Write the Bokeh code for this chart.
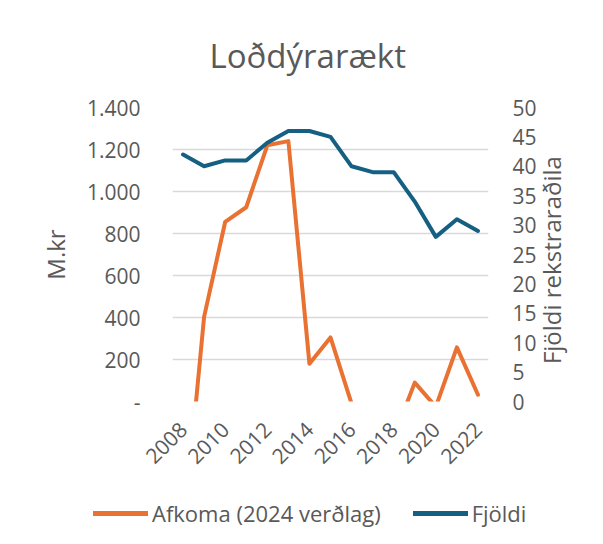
import math
from bokeh.plotting import figure
from bokeh.models import Range1d, LinearAxis, FixedTicker, Legend, LegendItem
from bokeh.embed import file_html
from bokeh.resources import INLINE

# ---- data ----
years = list(range(2008, 2023))
afkoma = [-650, 403, 855, 925, 1220, 1240, 180, 305, -10, -150, -170, 90, -25, 258, 32]
fjoldi = [42, 40, 41, 41, 44, 46, 46, 45, 40, 39, 39, 34, 28, 31, 29]

left_ticks = [0, 200, 400, 600, 800, 1000, 1200, 1400]
left_labels = ["-", "200", "400", "600", "800", "1.000", "1.200", "1.400"]
right_ticks = [0, 5, 10, 15, 20, 25, 30, 35, 40, 45, 50]
x_ticks = [2008, 2010, 2012, 2014, 2016, 2018, 2020, 2022]

title_text = "Loðdýrarækt"
left_label = "M.kr"
right_label = "Fjöldi rekstraraðila"
series_names = ["Afkoma (2024 verðlag)", "Fjöldi"]

FONT = "Open Sans"
GREY = "#595959"
ORANGE = "#E97132"
BLUE = "#156082"

p = figure(
    frame_width=316, frame_height=294,
    min_border_left=172, min_border_right=107,
    min_border_top=107, min_border_bottom=88,
    x_range=Range1d(2007.5, 2022.5), y_range=Range1d(0, 1400),
    output_backend="svg", toolbar_location=None,
    background_fill_color="white", border_fill_color="white",
)
p.outline_line_color = None
p.extra_y_ranges = {"right": Range1d(0, 50)}

# title
p.title.text = title_text
p.title.text_font = FONT
p.title.text_font_size = "33px"
p.title.text_font_style = "normal"
p.title.text_color = GREY
p.title.align = "left"
p.title.offset = 37
p.title.standoff = 60

r1 = p.line(years, afkoma, line_color=ORANGE, line_width=4, line_join="round", line_cap="round")
r2 = p.line(years, fjoldi, line_color=BLUE, line_width=4, line_join="round", line_cap="round",
            y_range_name="right")

right_axis = LinearAxis(y_range_name="right")
p.add_layout(right_axis, "right")

for ax in [p.xaxis[0], p.yaxis[0], right_axis]:
    ax.axis_line_color = None
    ax.major_tick_line_color = None
    ax.minor_tick_line_color = None
    ax.major_label_text_font = FONT
    ax.major_label_text_font_size = "21px"
    ax.major_label_text_color = GREY
    ax.axis_label_text_font = FONT
    ax.axis_label_text_font_size = "24px"
    ax.axis_label_text_font_style = "normal"
    ax.axis_label_text_color = GREY

left_axis = p.yaxis[0]
left_axis.ticker = FixedTicker(ticks=left_ticks)
left_axis.major_label_overrides = {t: l for t, l in zip(left_ticks, left_labels)}
left_axis.major_label_standoff = 26
left_axis.axis_label = left_label
left_axis.axis_label_standoff = 12

right_axis.ticker = FixedTicker(ticks=right_ticks)
right_axis.major_label_standoff = 18
# leading no-break spaces lift the bottom-anchored label to the axis middle
right_axis.axis_label = "\u00a0" * 6 + right_label
right_axis.axis_label_standoff = 12
right_axis.axis_label_orientation = math.pi / 2
right_axis.axis_label_align = "start"

xa = p.xaxis[0]
xa.ticker = FixedTicker(ticks=x_ticks)
xa.major_label_orientation = math.pi / 4
xa.major_label_standoff = 18

p.xgrid.visible = False
p.ygrid.ticker = FixedTicker(ticks=left_ticks)
p.ygrid.grid_line_color = "#D9D9D9"
p.ygrid.grid_line_width = 1.5

# ---- legend strip below the chart (separate root, full-width frame) ----
lg = figure(
    width=595, height=39, min_border=0,
    x_range=Range1d(0, 1), y_range=Range1d(0, 1),
    x_axis_type=None, y_axis_type=None,
    output_backend="svg", toolbar_location=None,
    background_fill_color="white", border_fill_color="white",
)
lg.outline_line_color = None
lg.xgrid.visible = False
lg.ygrid.visible = False
# proxy renderers for the legend keys (their data lie outside this strip's ranges)
k1 = lg.line(years, afkoma, line_color=ORANGE, line_width=5, line_cap="round")
k2 = lg.line(years, fjoldi, line_color=BLUE, line_width=5, line_cap="round")

legend = Legend(
    items=[LegendItem(label=series_names[0], renderers=[k1]),
           LegendItem(label=series_names[1], renderers=[k2])],
    orientation="horizontal", location=(93, 0),
    glyph_width=55, glyph_height=20, label_standoff=4, spacing=32,
    padding=0, margin=0, border_line_color=None, background_fill_alpha=0,
    label_text_font=FONT, label_text_font_size="22px", label_text_color=GREY,
)
lg.add_layout(legend, "center")

open("out.html", "w").write(file_html([p, lg], INLINE))
